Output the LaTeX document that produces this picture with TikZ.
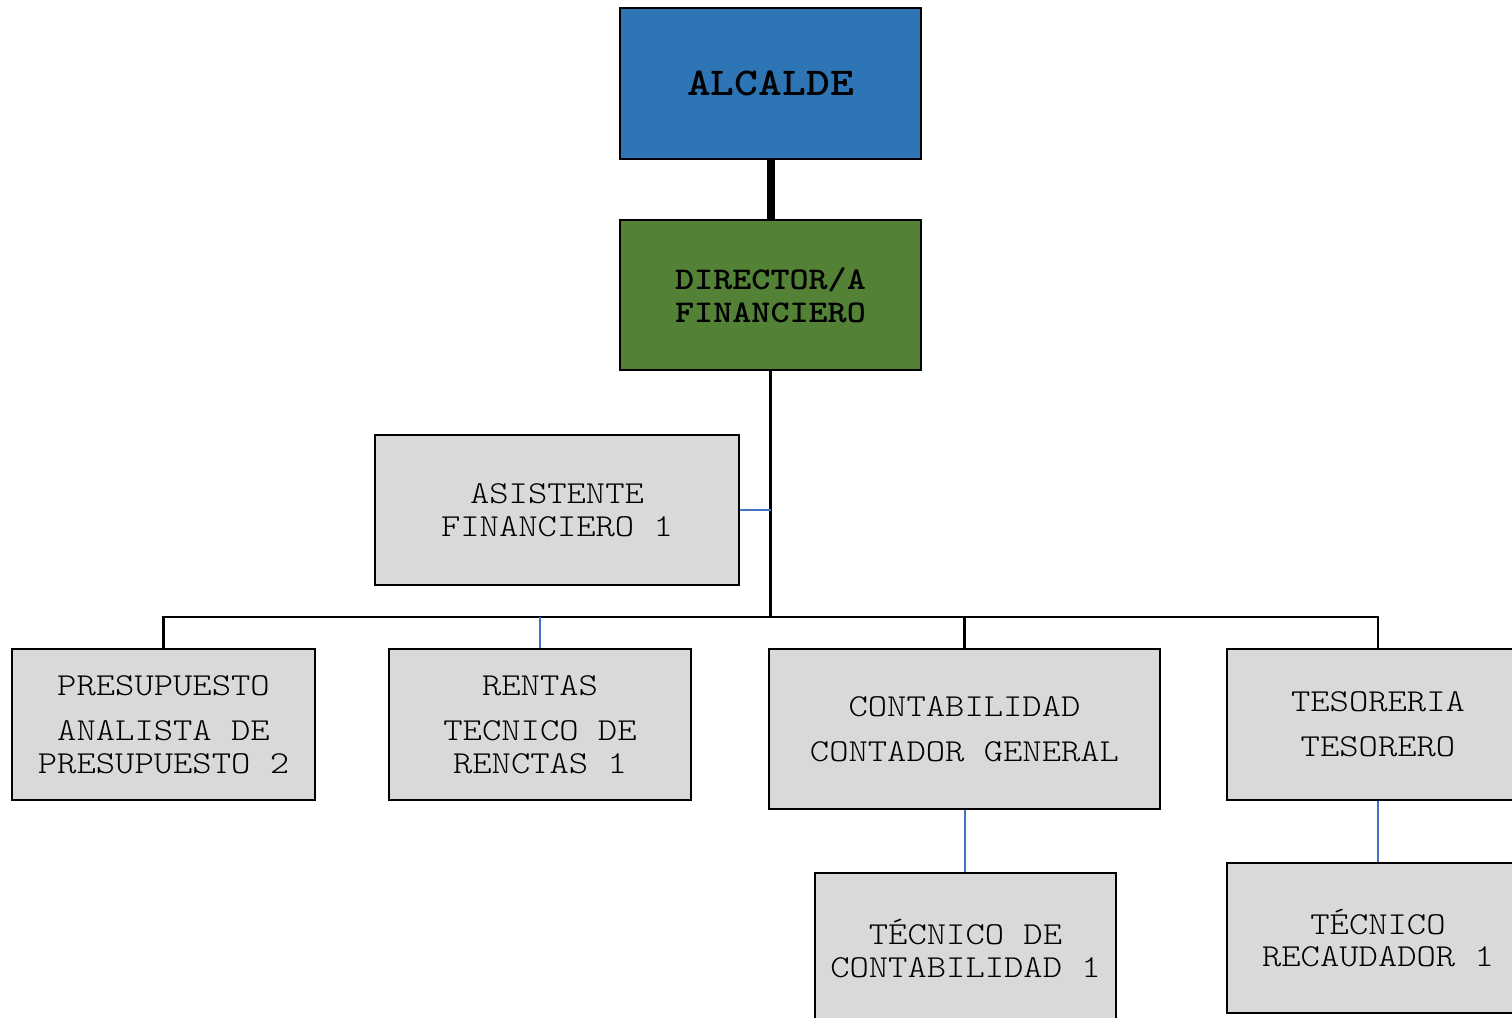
\documentclass[tikz,border=0pt]{standalone}
\usepackage{fontspec}
\newfontfamily\cour{lmmonolt10-regular}[Extension=.otf, FakeStretch=1.15]
\newfontfamily\courb{lmmonolt10-bold}[Extension=.otf, FakeStretch=1.15]
\definecolor{alcblue}{HTML}{2E75B6}
\definecolor{dirgreen}{HTML}{538135}
\definecolor{boxgray}{HTML}{D9D9D9}
\definecolor{linkblue}{HTML}{4472C4}
\tikzset{
  orgbox/.style={draw=black, line width=2.5pt, inner sep=0pt, align=center, fill=boxgray,
    font=\cour\fontsize{32}{32.5}\selectfont},
  topbox/.style={orgbox, font=\courb\fontsize{31.6}{33}\selectfont},
  bus/.style={draw=black, line width=2.5pt},
  sublink/.style={draw=linkblue, line width=2pt},
}
\begin{document}
\begin{tikzpicture}[x=1pt,y=-1pt]
\useasboundingbox (0,0) rectangle (1512,1017);
\clip (0,0) rectangle (1512,1017);
\node[topbox, fill=alcblue, minimum width=301pt, minimum height=151pt, font=\courb\fontsize{39.5}{40}\selectfont] (alc) at (770.5,83.5) {ALCALDE};
\node[topbox, fill=dirgreen, minimum width=301pt, minimum height=150pt] (dir) at (770.5,295) {DIRECTOR/A\\FINANCIERO};
\node[orgbox, minimum width=364pt, minimum height=150pt] (asis) at (557,510) {ASISTENTE\\FINANCIERO 1};
\node[orgbox, minimum width=303pt, minimum height=151pt] (pres) at (163.5,724.5) {PRESUPUESTO\\[12.5pt]ANALISTA DE\\PRESUPUESTO 2};
\node[orgbox, minimum width=302pt, minimum height=151pt] (rent) at (540,724.5) {RENTAS\\[12.5pt]TECNICO DE\\RENCTAS 1};
\node[orgbox, minimum width=391pt, minimum height=160pt] (cont) at (964.5,729) {CONTABILIDAD\\[12.5pt]CONTADOR GENERAL};
\node[orgbox, minimum width=302pt, minimum height=151pt] (teso) at (1378,724.5) {TESORERIA\\[12.5pt]TESORERO};
\node[orgbox, minimum width=301pt, minimum height=151pt] (tcon) at (965.5,948.5) {TÉCNICO DE\\CONTABILIDAD 1};
\node[orgbox, minimum width=302pt, minimum height=150pt] (trec) at (1378,938) {TÉCNICO\\RECAUDADOR 1};
\coordinate (busC) at (770.5,617);
\draw[black, line width=8pt] (alc.south) -- (dir.north);
\draw[bus] (dir.south) -- (busC);
\draw[bus] (pres.north) -- (pres.north |- busC) -- (teso.north |- busC) -- (teso.north);
\draw[bus] (cont.north) -- (cont.north |- busC);
\draw[sublink] (rent.north) -- (rent.north |- busC);
\draw[sublink] (asis.east) -- (asis.east -| busC);
\draw[sublink] (cont.south) -- (cont.south |- tcon.north);
\draw[sublink] (teso.south) -- (trec.north);
\end{tikzpicture}
\end{document}
